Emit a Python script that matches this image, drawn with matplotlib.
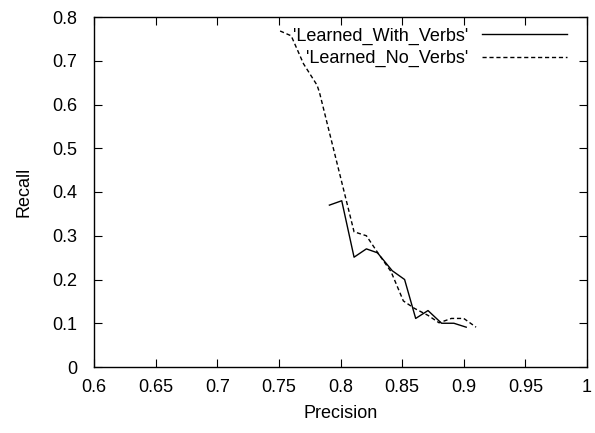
import matplotlib
matplotlib.use('Agg')
import matplotlib.pyplot as plt

plt.rcParams['font.family'] = ['Liberation Sans', 'DejaVu Sans']

# precision / recall curves
with_verbs_p = [0.791, 0.801, 0.811, 0.821, 0.830, 0.842, 0.852, 0.861, 0.871, 0.882, 0.892, 0.902]
with_verbs_r = [0.370, 0.380, 0.251, 0.270, 0.261, 0.220, 0.200, 0.111, 0.129, 0.100, 0.100, 0.091]

no_verbs_p = [0.751, 0.760, 0.770, 0.781, 0.783, 0.811, 0.821, 0.831, 0.841, 0.851, 0.860, 0.871, 0.880, 0.890, 0.900, 0.910]
no_verbs_r = [0.768, 0.757, 0.693, 0.644, 0.627, 0.309, 0.300, 0.258, 0.218, 0.151, 0.134, 0.118, 0.101, 0.111, 0.111, 0.091]

x_ticks = [0.6, 0.65, 0.7, 0.75, 0.8, 0.85, 0.9, 0.95, 1]
y_ticks = [0, 0.1, 0.2, 0.3, 0.4, 0.5, 0.6, 0.7, 0.8]

fig = plt.figure(figsize=(5.95, 4.33), dpi=100)
ax = fig.add_axes([94/595, 1 - 367/433, (587 - 94)/595, (367 - 17)/433])

ax.plot(with_verbs_p, with_verbs_r, color='black', lw=1, label="'Learned_With_Verbs'")
ax.plot(no_verbs_p, no_verbs_r, color='black', lw=1, linestyle=(0, (3, 2)), label="'Learned_No_Verbs'")

ax.set_xlim(0.6, 1)
ax.set_ylim(0, 0.8)
ax.set_xticks(x_ticks)
ax.set_xticklabels([f'{t:g}' for t in x_ticks])
ax.set_yticks(y_ticks)
ax.set_yticklabels([f'{t:g}' for t in y_ticks])
ax.tick_params(direction='in', top=True, right=True, length=6, width=0.8, labelsize=13)
ax.tick_params(axis='x', pad=9)
ax.tick_params(axis='y', pad=12)
for s in ax.spines.values():
    s.set_linewidth(1)

ax.set_xlabel('Precision', fontsize=13, labelpad=6)
ax.set_ylabel('Recall', fontsize=13, labelpad=14)

ax.legend(loc='upper right', frameon=False, markerfirst=False, fontsize=13,
          handlelength=4.7, handletextpad=0.75, labelspacing=0.3,
          borderaxespad=0.1, bbox_to_anchor=(1 - 11/493, 0.996))

fig.savefig('out.png', dpi=100)
